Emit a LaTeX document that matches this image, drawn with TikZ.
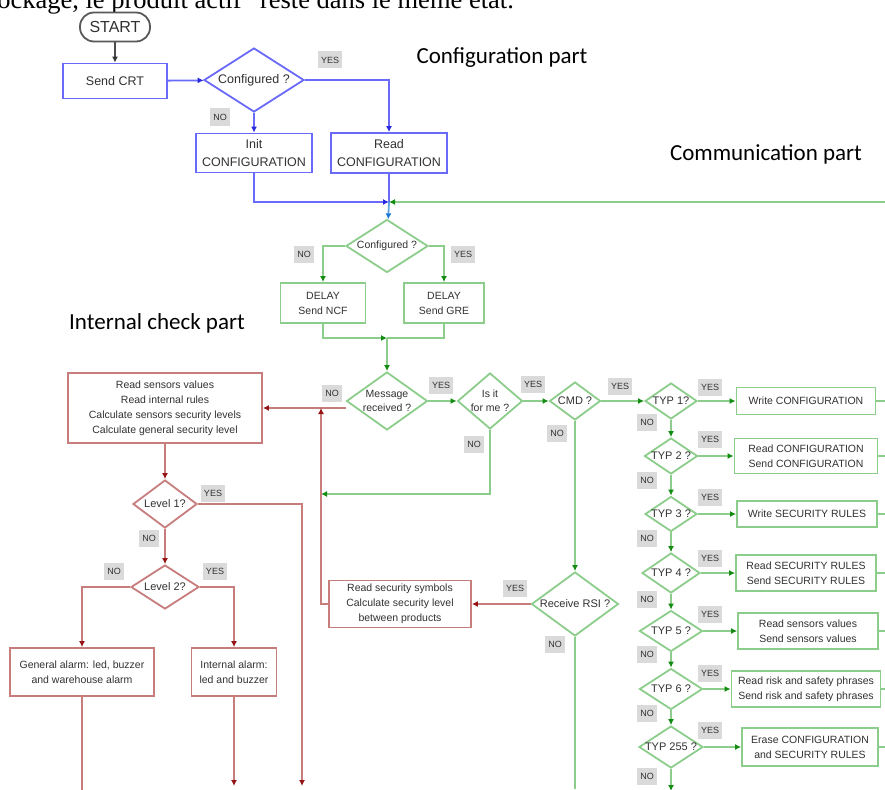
\documentclass[tikz,border=0pt]{standalone}
\usepackage{fontspec}
\setmainfont{Liberation Sans}
\newfontfamily\titlefam{Carlito}
\newfontfamily\seriffam{Liberation Serif}
\usetikzlibrary{shapes,arrows.meta,positioning,calc}

\definecolor{cfgblue}{RGB}{105,105,250}
\definecolor{cfgtip}{RGB}{40,40,220}
\definecolor{linkblue}{RGB}{90,165,225}
\definecolor{linktip}{RGB}{30,120,220}
\definecolor{comgreen}{RGB}{140,205,140}
\definecolor{comtip}{RGB}{20,140,20}
\definecolor{chkred}{RGB}{200,125,125}
\definecolor{chktip}{RGB}{150,20,20}
\definecolor{txtgray}{RGB}{50,50,50}
\definecolor{lblgray}{RGB}{218,218,218}

\newcommand\cfgtxt{\fontsize{12.5}{18}\selectfont}
\newcommand\comtxt{\fontsize{10.5}{15}\selectfont}
\newcommand\dectxt{\fontsize{10.5}{14}\selectfont}
\newcommand\lbltxt{\fontsize{9}{10}\selectfont}
\newcommand\parttxt{\titlefam\fontsize{23}{26}\selectfont}

\tikzset{
  sz/.style 2 args={minimum width=#1pt, minimum height=#2pt},
  box/.style={draw, rectangle, fill=white, line width=1.8pt, align=center,
    text=txtgray, font=\comtxt, inner sep=0pt},
  dec/.style={draw, diamond, fill=white, line width=1.8pt, inner sep=0pt},
  dtext/.style={text=txtgray, align=center, font=\dectxt},
  lbl/.style={fill=lblgray, text=txtgray, font=\lbltxt, inner xsep=3pt,
    minimum height=17pt},
  kline/.style={draw=black!70, line width=1.8pt},
  bline/.style={draw=cfgblue, line width=1.8pt},
  lbline/.style={draw=linkblue, line width=1.8pt},
  gline/.style={draw=comgreen, line width=2pt},
  rline/.style={draw=chkred, line width=2pt},
  karr/.style={-{Latex[length=6pt,width=6pt,color=black!80]}},
  barr/.style={-{Latex[length=6pt,width=6pt,color=cfgtip]}},
  lbarr/.style={-{Latex[length=6pt,width=6pt,color=linktip]}},
  garr/.style={-{Latex[length=6pt,width=6pt,color=comtip]}},
  rarr/.style={-{Latex[length=6pt,width=6pt,color=chktip]}}
}

\begin{document}
\begin{tikzpicture}[x=1pt, y=-1pt]
    \useasboundingbox (0,0) rectangle (885,789);
    \clip (0,0) rectangle (885,789);

    % text of the page above the figure
    \node[anchor=base east, font=\seriffam\fontsize{26.5}{28}\selectfont, inner sep=0pt] (pagetxt) at (514,9)
        {stockage, le produit actif” reste dans le même état.};

    % titles
    \node[font=\parttxt] (cfgpart) at (502,58) {Configuration part};
    \node[font=\parttxt] (compart) at (766,154) {Communication part};
    \node[font=\parttxt] (chkpart) at (157,323) {Internal check part};

    % Configuration part
    \node[box, draw=black!65, rounded corners=14pt, sz={70}{29}, font=\fontsize{16}{18}\selectfont] (start) at (115,27) {START};
    \node[box, draw=cfgblue, sz={104}{35}, font=\cfgtxt] (crt) at (115,81) {Send CRT};
    \node[dec, draw=cfgblue, sz={100}{64}, label={[dtext, font=\cfgtxt]center:Configured ?}] (cfgA) at (254,80) {};
    \node[box, draw=cfgblue, sz={116}{39}, font=\cfgtxt] (initc) at (254,153) {Init\\CONFIGURATION};
    \node[box, draw=cfgblue, sz={116}{40}, font=\cfgtxt] (readc) at (389,153) {Read\\CONFIGURATION};
    \coordinate (j1) at (389,202);
    \coordinate (loopin) at (885,202);
    \node[lbl] (yA) at (330,60) {YES};
    \node[lbl] (nA) at (220,117) {NO};

    \draw[kline, karr] (start) -- (crt);
    \draw[bline, barr] (crt) -- (cfgA);
    \draw[bline, barr] (cfgA) -- (initc);
    \draw[bline, barr] (cfgA.east) -| (readc);
    \draw[bline, barr] (initc) |- (j1);
    \draw[bline] (readc) -- (j1);
    \draw[gline, garr] (loopin) -- (j1);

    % Communication part
    \node[dec, draw=comgreen, sz={82}{53}, label={[dtext]center:Configured ?}] (cfgB) at (387,246) {};
    \node[box, draw=comgreen, sz={85}{40}] (ncf) at (323,303) {DELAY\\Send NCF};
    \node[box, draw=comgreen, sz={80}{40}] (gre) at (444,303) {DELAY\\Send GRE};
    \coordinate (j2) at (387,338);
    \node[lbl] (nB) at (304,254) {NO};
    \node[lbl] (yB) at (463,254) {YES};

    \draw[lbline, lbarr] (j1) -- (cfgB);
    \draw[gline, garr] (cfgB.west) -| (ncf);
    \draw[gline, garr] (cfgB.east) -| (gre);
    \draw[gline, garr] (ncf) |- (j2);
    \draw[gline] (gre) |- (j2);

    \node[dec, draw=comgreen, sz={81}{58}, label={[dtext]center:Message\\received ?}] (msg) at (387,401) {};
    \node[dec, draw=comgreen, sz={65}{56}, label={[dtext]center:Is it\\for me ?}] (isit) at (490,401) {};
    \node[dec, draw=comgreen, sz={51}{38}, label={[dtext, font=\fontsize{11}{13}\selectfont]center:CMD ?}] (cmd) at (575,401) {};
    \node[dec, draw=comgreen, sz={87}{64}, label={[dtext, font=\fontsize{11}{13}\selectfont]center:Receive RSI ?}] (rsi) at (575,604) {};
    \coordinate (j3) at (321,494);
    \coordinate (rsiout) at (575,789);
    \node[lbl] (nM) at (332,393) {NO};
    \node[lbl] (yM) at (441,385) {YES};
    \node[lbl] (yI) at (533,384) {YES};
    \node[lbl] (nI) at (474,444) {NO};
    \node[lbl] (yC) at (620,386) {YES};
    \node[lbl] (nC) at (557,433) {NO};
    \node[lbl] (yR) at (515,588) {YES};
    \node[lbl] (nR) at (555,644) {NO};

    \draw[gline, garr] (j2) -- (msg);
    \draw[gline, garr] (msg) -- (isit);
    \draw[gline, garr] (isit) -- (cmd);
    \draw[gline, garr] (isit) |- (j3);
    \draw[gline, garr] (cmd) -- (rsi);
    \draw[gline] (rsi) -- (rsiout);

    % TYP tests
    \node[dec, draw=comgreen, sz={52}{36}, label={[dtext, font=\fontsize{11}{13}\selectfont]center:TYP 1?}] (typA) at (671,401) {};
    \node[dec, draw=comgreen, sz={53}{36}, label={[dtext, font=\fontsize{11}{13}\selectfont]center:TYP 2 ?}] (typB) at (671,456) {};
    \node[dec, draw=comgreen, sz={52}{35}, label={[dtext, font=\fontsize{11}{13}\selectfont]center:TYP 3 ?}] (typC) at (671,514) {};
    \node[dec, draw=comgreen, sz={58}{40}, label={[dtext, font=\fontsize{11}{13}\selectfont]center:TYP 4 ?}] (typD) at (671,573) {};
    \node[dec, draw=comgreen, sz={63}{41}, label={[dtext, font=\fontsize{11}{13}\selectfont]center:TYP 5 ?}] (typE) at (671,631) {};
    \node[dec, draw=comgreen, sz={63}{41}, label={[dtext, font=\fontsize{11}{13}\selectfont]center:TYP 6 ?}] (typF) at (671,689) {};
    \node[dec, draw=comgreen, sz={64}{42}, label={[dtext, font=\fontsize{11}{13}\selectfont]center:TYP 255 ?}] (typG) at (671,747) {};
    \coordinate (typout) at (671,791);

    \node[box, draw=comgreen, sz={139}{27}] (wconf) at (806,401) {Write CONFIGURATION};
    \node[box, draw=comgreen, sz={143}{35}] (rsconf) at (806,456) {Read CONFIGURATION\\Send CONFIGURATION};
    \node[box, draw=comgreen, sz={140}{26}] (wsec) at (807,514) {Write SECURITY RULES};
    \node[box, draw=comgreen, sz={140}{36}] (rssec) at (806,573) {Read SECURITY RULES\\Send SECURITY RULES};
    \node[box, draw=comgreen, sz={140}{36}] (rssens) at (808,631) {Read sensors values\\Send sensors values};
    \node[box, draw=comgreen, sz={149}{36}] (rsrisk) at (806,689) {Read risk and safety phrases\\Send risk and safety phrases};
    \node[box, draw=comgreen, sz={136}{38}] (erase) at (810,747) {Erase CONFIGURATION\\and SECURITY RULES};
    \coordinate (outR) at (885,0);

    \foreach \yy/\ny [count=\k] in {387/422, 439/480, 497/538, 558/599, 614/654, 673/713, 730/776} {
        \node[lbl] (yT\k) at (710,\yy) {YES};
        \node[lbl] (nT\k) at (647,\ny) {NO};
    }

    \draw[gline, garr] (cmd) -- (typA);
    \draw[gline, garr] (typA) -- (typB);
    \draw[gline, garr] (typB) -- (typC);
    \draw[gline, garr] (typC) -- (typD);
    \draw[gline, garr] (typD) -- (typE);
    \draw[gline, garr] (typE) -- (typF);
    \draw[gline, garr] (typF) -- (typG);
    \draw[gline, garr] (typG) -- (typout);
    \foreach \t/\b in {typA/wconf, typB/rsconf, typC/wsec, typD/rssec, typE/rssens, typF/rsrisk, typG/erase} {
        \draw[gline, garr] (\t) -- (\b);
        \draw[gline] (\b.east) -- (\b.east -| outR);
    }

    % Internal check part
    \node[box, draw=chkred, sz={194}{70}] (sens) at (165,408)
        {Read sensors values\\Read internal rules\\Calculate sensors security levels\\Calculate general security level};
    \node[dec, draw=chkred, sz={64}{48}, label={[dtext, font=\fontsize{11}{13}\selectfont]center:Level 1?}] (lvlA) at (165,504) {};
    \node[dec, draw=chkred, sz={68}{44}, label={[dtext, font=\fontsize{11}{13}\selectfont]center:Level 2?}] (lvlB) at (165,587) {};
    \node[box, draw=chkred, sz={144}{48}] (genal) at (82,672) {General alarm: led, buzzer\\and warehouse alarm};
    \node[box, draw=chkred, sz={85}{48}] (intal) at (234,672) {Internal alarm:\\led and buzzer};
    \node[box, draw=chkred, sz={142}{47}] (rsym) at (400,604) {Read security symbols\\Calculate security level\\between products};
    \coordinate (j4) at (321,408);
    \coordinate (outA) at (0,786);
    \coordinate (outB) at (0,791);
    \coordinate (lvlAout) at (302,786);
    \node[lbl] (yL1) at (213,493) {YES};
    \node[lbl] (nL1) at (149,538) {NO};
    \node[lbl] (nL2) at (114,571) {NO};
    \node[lbl] (yL2) at (215,571) {YES};

    \draw[rline, rarr] (msg.west |- sens.east) -- (sens.east);
    \draw[rline, rarr] (rsi) -- (rsym);
    \draw[rline, rarr] (rsym.west) -| (j4);
    \draw[rline, rarr] (sens) -- (lvlA);
    \draw[rline, rarr] (lvlA.east) -| (lvlAout);
    \draw[rline, rarr] (lvlA) -- (lvlB);
    \draw[rline, rarr] (lvlB.west) -| (genal);
    \draw[rline, rarr] (lvlB.east) -| (intal);
    \draw[rline] (genal) -- (genal |- outB);
    \draw[rline, rarr] (intal) -- (intal |- outA);
\end{tikzpicture}
\end{document}
